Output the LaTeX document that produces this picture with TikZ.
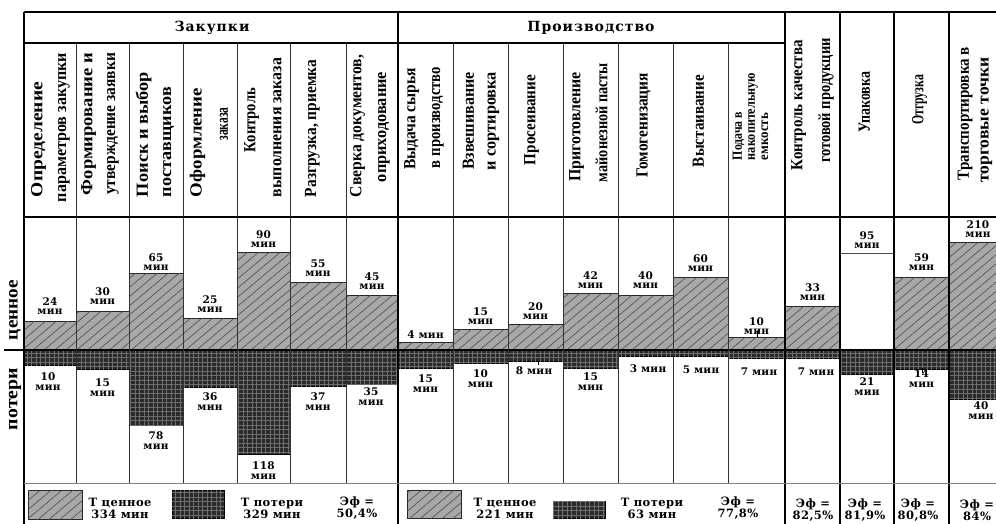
\documentclass[tikz,border=0pt]{standalone}
\usepackage{graphicx}
\usepackage{fontspec}
\setmainfont{Liberation Serif}
\newfontfamily\vfont{Liberation Serif}
\newfontfamily\hfont[LetterSpace=3]{DejaVu Serif}
\newfontfamily\gfont[LetterSpace=4]{DejaVu Serif}
\newfontfamily\hhfont[LetterSpace=7]{DejaVu Serif}
\usetikzlibrary{patterns.meta}
\newcommand{\vl}[2]{\resizebox{#1pt}{\height}{#2}}
\definecolor{valfill}{HTML}{A8A8A8}
\definecolor{valline}{HTML}{4A4A4A}
\definecolor{lossfill}{HTML}{2A2A2A}
\definecolor{lossline}{HTML}{6E6E6E}
\definecolor{gridgray}{HTML}{808080}
\tikzset{
  valbar/.style={draw=black!85, line width=0.8pt, fill=valfill,
    postaction={pattern={Lines[angle=40,distance=7pt,line width=0.6pt]}, pattern color=valline}},
  lossbar/.style={draw=black, line width=0.8pt, fill=lossfill,
    postaction={pattern={Hatch[distance=4.5pt,line width=0.7pt]}, pattern color=lossline}},
  vt/.style={rotate=90, inner sep=0pt, font=\vfont\bfseries\fontsize{17}{18}\selectfont},
  vts/.style={rotate=90, inner sep=0pt, font=\vfont\bfseries\fontsize{14}{14}\selectfont},
  lab/.style={inner sep=0pt, align=center, font=\hfont\bfseries\fontsize{10.5}{9.5}\selectfont},
  leg/.style={inner sep=0pt, align=center, font=\gfont\bfseries\fontsize{11.5}{12}\selectfont},
  sect/.style={inner sep=0pt, font=\hhfont\bfseries\fontsize{14}{14}\selectfont},
  thickln/.style={line width=2pt, black},
  thinln/.style={line width=0.8pt, black!80},
}
\begin{document}
\begin{tikzpicture}[x=1pt,y=-1pt]
\clip (0,0) rectangle (996,524);
\fill[white] (0,0) rectangle (996,524);
% ---- value and loss bars
\foreach \l/\r/\t/\b in {24/76/321/365, 76/129/311/369, 129/183/273/425, 183/237/318/387,
  237/290/252/454, 290/346/282/386, 346/398/295/384, 398/453/342/368, 453/508/329/363,
  508/563/324/361, 563/618/293/368, 618/673/295/356, 673/728/277/356, 728/785/337/358,
  785/840/306/358, 894/949/277/369, 949/1010/242/399}{
  \draw[valbar] (\l,\t) rectangle (\r,349);
  \draw[lossbar] (\l,350) rectangle (\r,\b);
}
\draw[line width=0.8pt, black!70, fill=white] (840,253) rectangle (894,349);
\draw[lossbar] (840,350) rectangle (894,374);
% ---- axis
\draw[line width=2pt] (4,349.5) -- (996,349.5);
% ---- grid
\foreach \x in {76,129,183,237,290,346,453,508,563,618,673,728}
  \draw[thinln] (\x,43) -- (\x,483);
\foreach \x in {24,398,785,840,894,949}
  \draw[thickln] (\x,12) -- (\x,524);
\draw[thickln] (24,12) -- (996,12);
\draw[line width=1.4pt] (24,43) -- (785,43);
\draw[thickln] (24,217) -- (996,217);
\draw[line width=1pt, gridgray] (24,483) -- (996,483);
% small tick marks
\draw[line width=0.6pt] (538,361) -- (538,365);
\draw[line width=0.6pt] (757,331) -- (757,337);
\draw[line width=0.6pt] (922,368) -- (922,373);
% ---- section titles
\node[sect] (s1) at (212,28) {Закупки};
\node[sect] (s2) at (591,28) {Производство};
% ---- column headers
\node[vt] (c1a) at (38.5,139.5) {\vl{115}{Определение}};
\node[vt] (c1b) at (64,127.5) {\vl{149}{параметров закупки}};
\node[vt] (c2a) at (88.5,124) {\vl{142}{Формирование и}};
\node[vt] (c2b) at (113,124) {\vl{142}{утверждение заявки}};
\node[vt] (c3a) at (143.5,134.5) {\vl{125}{Поиск и выбор}};
\node[vt] (c3b) at (168.5,142) {\vl{110}{поставщиков}};
\node[vt] (c4a) at (197.5,142.5) {\vl{109}{Оформление}};
\node[vt] (c4b) at (224,124) {\vl{33}{заказа}};
\node[vt] (c5a) at (251.5,120) {\vl{64}{Контроль}};
\node[vt] (c5b) at (277.5,127.5) {\vl{139}{выполнения заказа}};
\node[vt] (c6a) at (312.5,128.5) {\vl{137}{Разгрузка, приемка}};
\node[vt] (c7a) at (357.5,126) {\vl{142}{Сверка документов,}};
\node[vt] (c7b) at (384,127) {\vl{110}{оприходование}};
\node[vt] (c8a) at (411.5,119) {\vl{102}{Выдача сырья}};
\node[vt] (c8b) at (438,117.5) {\vl{101}{в производство}};
\node[vt] (c9a) at (468.5,121) {\vl{98}{Взвешивание}};
\node[vt] (c9b) at (493.5,121) {\vl{98}{и сортировка}};
\node[vt] (c10a) at (531.5,120) {\vl{90}{Просеивание}};
\node[vt] (c11a) at (576.5,127) {\vl{110}{Приготовление}};
\node[vt] (c11b) at (601.5,122.5) {\vl{119}{майонезной пасты}};
\node[vt] (c12a) at (643.5,125.5) {\vl{105}{Гомогенизация}};
\node[vt] (c13a) at (698.5,121) {\vl{92}{Выстаивание}};
\node[vts] (c14a) at (738.5,136) {\vl{48}{Подача в}};
\node[vts] (c14b) at (753,116.5) {\vl{87}{накопительную}};
\node[vts] (c14c) at (765,136.5) {\vl{47}{емкость}};
\node[vt] (c15a) at (798.5,105) {\vl{130}{Контроль качества}};
\node[vt] (c15b) at (826,100.5) {\vl{125}{готовой продукции}};
\node[vt] (c16a) at (864.5,102.5) {\vl{61}{Упаковка}};
\node[vt] (c17a) at (919.5,100) {\vl{50}{Отгрузка}};
\node[vt] (c18a) at (965,113.5) {\vl{133}{Транспортировка в}};
\node[vt] (c18b) at (986.5,120) {\vl{125}{торговые точки}};
% ---- side labels
\draw[line width=1pt] (4,349.5) -- (24,349.5);
\node[vt, font=\vfont\bfseries\fontsize{18}{20}\selectfont] (sv) at (15,310) {\vl{60}{ценное}};
\node[vt, font=\vfont\bfseries\fontsize{18}{20}\selectfont] (sl) at (15,399) {\vl{62}{потери}};
% ---- value labels (anchor south)
\foreach \n/\x/\y/\t in {v1/50/315/{24\\мин}, v2/102.5/305/{30\\мин}, v3/156/271/{65\\мин},
  v4/210/313/{25\\мин}, v5/263.5/248/{90\\мин}, v6/318/277/{55\\мин}, v7/372/290/{45\\мин},
  v8/425.5/339/{4 мин}, v9/480.5/325/{15\\мин}, v10/535.5/320/{20\\мин}, v11/590.5/289/{42\\мин},
  v12/645.5/289/{40\\мин}, v13/700.5/272/{60\\мин}, v14/756.5/335/{10\\мин}, v15/812.5/301/{33\\мин},
  v16/867/249/{95\\мин}, v17/921.5/271/{59\\мин}, v18/978/238/{210\\мин}}
  \node[lab, anchor=south] (\n) at (\x,\y) {\t};
% ---- loss labels (anchor north)
\foreach \n/\x/\y/\t in {l1/48/373/{10\\мин}, l2/102.5/379/{15\\мин}, l3/156/432/{78\\мин},
  l4/210/393/{36\\мин}, l5/263.5/462/{118\\мин}, l6/318/393/{37\\мин}, l7/371/388/{35\\мин},
  l8/425.5/375/{15\\мин}, l9/480.5/370/{10\\мин}, l10/534/367/{8 мин}, l11/590.5/373/{15\\мин},
  l12/648/365/{3 мин}, l13/701/366/{5 мин}, l14/759/368/{7 мин}, l15/816/368/{7 мин},
  l16/867/378/{21\\мин}, l17/921.5/370/{14\\мин}, l18/981/402/{40\\мин}}
  \node[lab, anchor=north] (\n) at (\x,\y) {\t};
% ---- legend
\draw[valbar] (28,490) rectangle (82,519);
\draw[lossbar] (172,490) rectangle (224,518);
\draw[valbar] (407,490) rectangle (461,518);
\draw[lossbar] (553,501) rectangle (605,518);
\node[leg] (g1) at (120,508) {Т ценное\\334 мин};
\node[leg] (g2) at (272,508) {Т потери\\329 мин};
\node[leg] (g3) at (357,508) {Эф =\\50,4\%};
\node[leg] (g4) at (505,508) {Т ценное\\221 мин};
\node[leg] (g5) at (652,508) {Т потери\\63 мин};
\node[leg] (g6) at (738,508) {Эф =\\77,8\%};
\node[leg] (g7) at (813,510) {Эф =\\82,5\%};
\node[leg] (g8) at (865,510) {Эф =\\81,9\%};
\node[leg] (g9) at (918,510) {Эф =\\80,8\%};
\node[leg] (g10) at (977,510) {Эф =\\84\%};
\end{tikzpicture}
\end{document}
